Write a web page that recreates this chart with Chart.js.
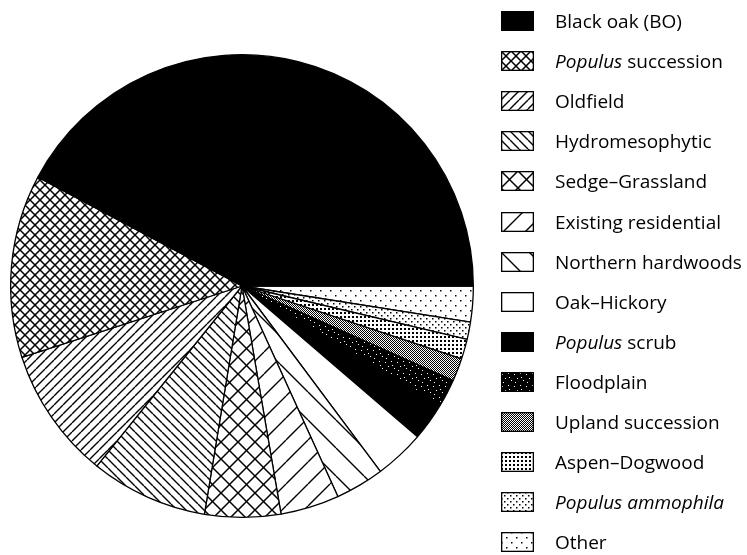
<!DOCTYPE html>
<html>
<head>
<meta charset="utf-8">
<script src="https://cdn.jsdelivr.net/npm/chart.js@4.4.1/dist/chart.umd.min.js"></script>
<style>
  body { margin: 0; background: #fff; }
  #wrap { position: relative; width: 747px; height: 555px; }
  #chart { position: absolute; left: 0; top: 0; }
  #legend { position: absolute; left: 501px; top: 0; width: 246px; height: 555px; }
  .item { position: absolute; left: 0; height: 20px; white-space: nowrap; }
  .item canvas { position: absolute; left: 0; top: 0; }
  .item span {
    position: absolute; left: 54px; top: 0; line-height: 20px;
    font-family: "Open Sans", sans-serif; font-size: 19px; color: #000;
  }
</style>
</head>
<body>
<div id="wrap">
  <canvas id="chart" width="747" height="555"></canvas>
  <div id="legend"></div>
</div>
<script>
//////////////////////
// Data (legend order, counter-clockwise from 3 o'clock)
//////////////////////
const categories = [
    "Black oak (BO)", "Populus succession", "Oldfield", "Hydromesophytic",
    "Sedge–Grassland", "Existing residential", "Northern hardwoods", "Oak–Hickory",
    "Populus scrub", "Floodplain", "Upland succession", "Aspen–Dogwood",
    "Populus ammophila", "Other"
];
// italic part of each label (genus name)
const italicPart = [
    "", "Populus", "", "", "", "", "", "", "Populus", "", "", "", "Populus ammophila", ""
];
// share of area, percent
const areaShare = [42.2, 12.8, 9.2, 8.2, 5.3, 4.1, 3.4, 3.5, 2.7, 1.9, 1.6, 1.4, 1.2, 2.5];

//////////////////////
// Fill patterns
//////////////////////
function tile(size, draw) {
    const c = document.createElement("canvas");
    c.width = size; c.height = size;
    const g = c.getContext("2d");
    g.fillStyle = "#fff";
    g.fillRect(0, 0, size, size);
    g.fillStyle = "#000";
    g.strokeStyle = "#000";
    draw(g, size);
    return c;
}
function lines(g, s, w, dir) {
    g.lineWidth = w;
    g.beginPath();
    for (let k = -1; k <= 1; k++) {
        if (dir === "/") { g.moveTo(k * s, s); g.lineTo(k * s + s, 0); }
        else { g.moveTo(k * s, 0); g.lineTo(k * s + s, s); }
    }
    g.stroke();
}
function dots(g, s, d, stagger) {
    g.fillRect(0, 0, d, d);
    if (stagger) g.fillRect(s / 2, s / 2, d, d);
}

const tiles = [
    tile(4, g => { g.fillRect(0, 0, 4, 4); }),                               // black oak
    tile(10, (g, s) => { lines(g, s, 1.5, "/"); lines(g, s, 1.5, "\\"); }),   // populus succession
    tile(9, (g, s) => lines(g, s, 1.4, "/")),                                // oldfield
    tile(9, (g, s) => lines(g, s, 1.4, "\\")),                               // hydromesophytic
    tile(17, (g, s) => { lines(g, s, 1.5, "/"); lines(g, s, 1.5, "\\"); }),   // sedge
    tile(22, (g, s) => lines(g, s, 1.4, "/")),                               // existing residential
    tile(28, (g, s) => lines(g, s, 1.4, "\\")),                              // northern hardwoods
    tile(4, () => {}),                                                       // oak-hickory
    tile(4, g => { g.fillRect(0, 0, 4, 4); }),                               // populus scrub
    tile(12, g => {                                                          // floodplain
        g.fillRect(0, 0, 12, 12);
        g.fillStyle = "#fff";
        [[1, 2], [7, 1], [4, 6], [10, 8], [2, 10], [8, 5]].forEach(p => g.fillRect(p[0], p[1], 1, 1));
    }),
    tile(2, g => { g.fillRect(0, 0, 1, 1); g.fillRect(1, 1, 1, 1); }),        // upland succession
    tile(4, (g, s) => dots(g, s, 2, false)),                                 // aspen-dogwood
    tile(6, (g, s) => dots(g, s, 1.5, true)),                                // populus ammophila
    tile(10, (g, s) => dots(g, s, 1.5, true))                                // other
];

const ctx = document.getElementById("chart").getContext("2d");
const fills = tiles.map(t => ctx.createPattern(t, "repeat"));

//////////////////////
// Chart (drawn clockwise, so reverse the lists)
//////////////////////
new Chart(ctx, {
    type: "pie",
    data: {
        labels: categories.slice().reverse(),
        datasets: [{
            data: areaShare.slice().reverse(),
            backgroundColor: fills.slice().reverse(),
            borderColor: "#000",
            borderWidth: 1.3,
            hoverOffset: 0
        }]
    },
    options: {
        responsive: false,
        animation: false,
        events: [],
        rotation: 90,
        layout: { padding: { left: 10, right: 273, top: 54, bottom: 37 } },
        plugins: {
            legend: { display: false },
            tooltip: { enabled: false }
        }
    }
});

//////////////////////
// HTML legend (needs italic genus names)
//////////////////////
const legendEl = document.getElementById("legend");
categories.forEach((name, i) => {
    const item = document.createElement("div");
    item.className = "item";
    item.style.top = (11 + i * 40.1) + "px";

    const sw = document.createElement("canvas");
    sw.width = 33; sw.height = 20;
    const g = sw.getContext("2d");
    g.fillStyle = g.createPattern(tiles[i], "repeat");
    g.fillRect(0, 0, 33, 20);
    g.strokeStyle = "#000";
    g.lineWidth = 1.3;
    g.strokeRect(0.65, 0.65, 31.7, 18.7);
    item.appendChild(sw);

    const label = document.createElement("span");
    const it = italicPart[i];
    if (it) {
        const em = document.createElement("i");
        em.textContent = it;
        label.appendChild(em);
        label.appendChild(document.createTextNode(name.slice(it.length)));
    } else {
        label.textContent = name;
    }
    item.appendChild(label);
    legendEl.appendChild(item);
});
</script>
</body>
</html>
